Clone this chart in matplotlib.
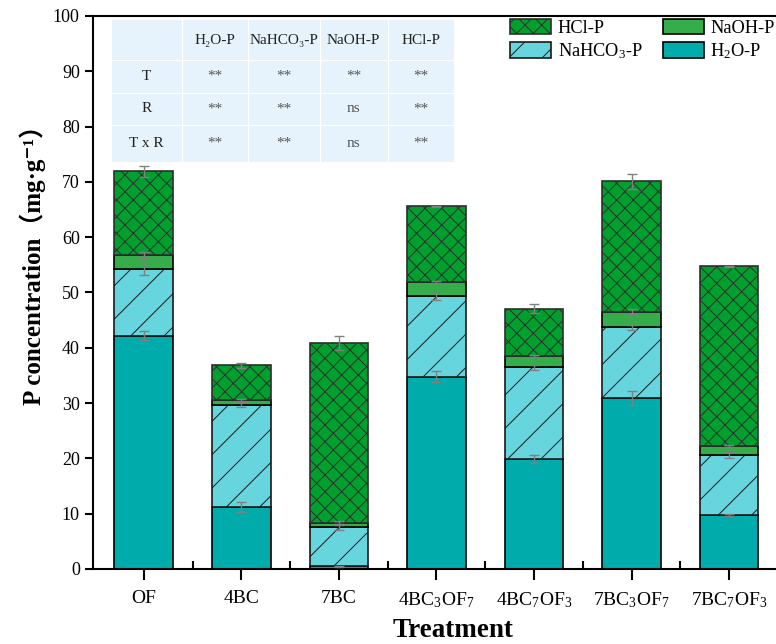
import numpy as np
import matplotlib
matplotlib.use("Agg")
import matplotlib.pyplot as plt
from matplotlib.patches import Rectangle

plt.rcParams['font.family'] = ['Liberation Serif', 'DejaVu Serif', 'Noto Sans CJK SC']
plt.rcParams['mathtext.default'] = 'regular'
plt.rcParams['hatch.linewidth'] = 0.7

treatments = ['OF', '4BC', '7BC', '4BC$_3$OF$_7$', '4BC$_7$OF$_3$', '7BC$_3$OF$_7$', '7BC$_7$OF$_3$']

# component amounts (mg/g), stacked bottom -> top
h2o = [42.2, 11.2, 0.5, 34.8, 19.9, 30.9, 9.8]
nahco3 = [12.0, 18.5, 7.0, 14.5, 16.6, 12.8, 10.8]
naoh = [2.6, 0.8, 0.9, 2.6, 2.0, 2.8, 1.6]
hcl = [15.1, 6.3, 32.5, 13.7, 8.6, 23.6, 32.5]

h2o_err = [0.8, 0.9, 0.1, 1.0, 0.65, 1.2, 0.2]
nahco3_err = [1.1, 0.5, 0.4, 0.65, 0.45, 0.45, 0.5]
naoh_err = [0.55, 0.3, 0.25, 0.2, 0.25, 0.45, 0.15]
hcl_err = [0.95, 0.45, 1.3, 0.1, 0.8, 1.3, 0.15]

# two-way ANOVA table
tbl_cols = ['H₂O-P', 'NaHCO₃-P', 'NaOH-P', 'HCl-P']
tbl_rows = ['T', 'R', 'T x R']
tbl_vals = [['**', '**', '**', '**'],
            ['**', '**', 'ns', '**'],
            ['**', '**', 'ns', '**']]

c_h2o = '#00abab'
c_nahco3 = '#66d5de'
c_naoh = '#36ad4b'
c_hcl = '#00a02e'

fig = plt.figure(figsize=(7.76, 6.44), dpi=100)
ax = fig.add_axes([0.1198, 0.1165, 0.8853, 0.8587])

x = np.arange(len(treatments))
w = 0.6
ekw = dict(ecolor='#808080', elinewidth=1.0, capsize=3.6, capthick=1.0, zorder=4)

b1 = np.array(h2o)
b2 = b1 + np.array(nahco3)
b3 = b2 + np.array(naoh)
b4 = b3 + np.array(hcl)

p1 = ax.bar(x, h2o, w, color=c_h2o, edgecolor='black', linewidth=1.2)
p2 = ax.bar(x, nahco3, w, bottom=b1, color=c_nahco3, edgecolor='#1a1a1a', linewidth=1.2, hatch='/')
p3 = ax.bar(x, naoh, w, bottom=b2, color=c_naoh, edgecolor='black', linewidth=1.2)
p4 = ax.bar(x, hcl, w, bottom=b3, color=c_hcl, edgecolor='#2e2e2e', linewidth=1.2, hatch='xx')

ax.errorbar(x, b1, yerr=h2o_err, fmt='none', **ekw)
ax.errorbar(x, b2, yerr=nahco3_err, fmt='none', **ekw)
ax.errorbar(x, b3, yerr=naoh_err, fmt='none', **ekw)
ax.errorbar(x, b4, yerr=hcl_err, fmt='none', **ekw)

ax.set_xlim(-0.52, 6.52)
ax.set_ylim(0, 100)
ax.set_yticks(np.arange(0, 101, 10))
ax.set_xticks(x)
ax.set_xticklabels(treatments)
ax.set_xticks(x[:-1] + 0.5, minor=True)
ax.tick_params(axis='x', which='major', direction='out', length=8, width=1.5, labelsize=14, pad=7)
ax.tick_params(axis='x', which='minor', direction='in', length=6, width=1.5)
ax.tick_params(axis='y', direction='out', length=6, width=1.5, labelsize=13, pad=3.5)
for s in ax.spines.values():
    s.set_linewidth(1.5)

ax.set_ylabel('P concentration（mg·g⁻¹）', fontsize=18, fontweight='bold')
ax.yaxis.set_label_coords(-0.068, 0.56)
ax.set_xlabel('Treatment', fontsize=19.5, fontweight='bold')
ax.xaxis.set_label_coords(0.524, -0.088)

# table drawn in axes fraction coords
tx = [0.027, 0.129, 0.2256, 0.330, 0.429, 0.525]
ty = [0.993, 0.920, 0.861, 0.803, 0.7365]
ax.add_patch(Rectangle((tx[0], ty[-1]), tx[-1] - tx[0], ty[0] - ty[-1], transform=ax.transAxes,
                       facecolor='#e7f3fc', edgecolor='none', zorder=5))
for xv in tx[1:-1]:
    ax.plot([xv, xv], [ty[-1], ty[0]], transform=ax.transAxes, color='white', lw=0.8, zorder=6)
for yv in ty[1:-1]:
    ax.plot([tx[0], tx[-1]], [yv, yv], transform=ax.transAxes, color='white', lw=0.8, zorder=6)
cx = [(tx[i] + tx[i + 1]) / 2 for i in range(5)]
cy = [(ty[i] + ty[i + 1]) / 2 for i in range(4)]
for j, c in enumerate(tbl_cols):
    ax.text(cx[j + 1], cy[0], c, transform=ax.transAxes, ha='center', va='center',
            fontsize=11, color='#222222', zorder=7)
for i, r in enumerate(tbl_rows):
    ax.text(cx[0], cy[i + 1], r, transform=ax.transAxes, ha='center', va='center',
            fontsize=11, color='#222222', zorder=7)
    for j, v in enumerate(tbl_vals[i]):
        ax.text(cx[j + 1], cy[i + 1], v, transform=ax.transAxes, ha='center', va='center',
                fontsize=11, color='#555555', zorder=7)

ax.legend([p4, p2, p3, p1], ['HCl-P', 'NaHCO$_3$-P', 'NaOH-P', 'H$_2$O-P'],
          ncol=2, loc='upper left', bbox_to_anchor=(0.607, 0.995), frameon=False,
          fontsize=13.2, handlelength=2.25, handleheight=0.9, handletextpad=0.35,
          columnspacing=1.1, labelspacing=0.25, borderaxespad=0, borderpad=0)

fig.savefig('out.png', dpi=100)
